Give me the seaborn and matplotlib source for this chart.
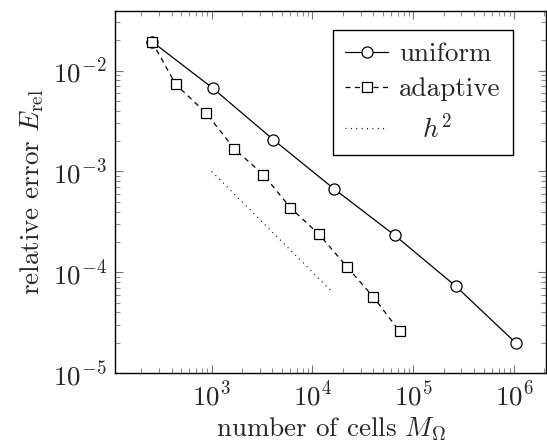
import numpy as np
import pandas as pd
import matplotlib
matplotlib.use("Agg")
import matplotlib.pyplot as plt
import matplotlib.ticker as mticker
import seaborn as sns

# ---- data ----
uniform_cells = [256, 1024, 4096, 16384, 65536, 262144, 1048576]
uniform_err = [1.94e-2, 6.7e-3, 2.06e-3, 6.7e-4, 2.32e-4, 7.3e-5, 1.97e-5]

adaptive_cells = [256, 440, 880, 1680, 3250, 6050, 11500, 22000, 40000, 73000]
adaptive_err = [1.94e-2, 7.3e-3, 3.8e-3, 1.67e-3, 9.3e-4, 4.35e-4, 2.4e-4, 1.13e-4, 5.7e-5, 2.6e-5]

h2_cells = [1000, 16000]
h2_err = [1.0e-3, 6.25e-5]

labels = ["uniform", "adaptive", r"$\quad h^2$"]

sns.set_style("ticks")
plt.rcParams.update({
    "font.family": ["cmr10", "DejaVu Serif"],
    "mathtext.fontset": "cm",
    "axes.formatter.use_mathtext": True,
    "xtick.direction": "in",
    "ytick.direction": "in",
    "xtick.top": True,
    "ytick.right": True,
    "xtick.minor.visible": True,
    "ytick.minor.visible": True,
    "axes.edgecolor": "black",
    "axes.linewidth": 1.0,
})

FS = 19.5

fig = plt.figure(figsize=(5.47, 4.48), dpi=100)
ax = fig.add_axes([115/547, 1 - 373/448, (546 - 115)/547, (373 - 11)/448])
ax.set_xscale("log")
ax.set_yscale("log")

df_u = pd.DataFrame({"cells": uniform_cells, "err": uniform_err})
df_a = pd.DataFrame({"cells": adaptive_cells, "err": adaptive_err})
df_h = pd.DataFrame({"cells": h2_cells, "err": h2_err})

sns.lineplot(data=df_u, x="cells", y="err", ax=ax, color="black", lw=0.9,
             marker="o", markersize=8, markerfacecolor="white",
             markeredgecolor="black", markeredgewidth=0.9,
             estimator=None, label=labels[0])
sns.lineplot(data=df_a, x="cells", y="err", ax=ax, color="black", lw=0.9,
             marker="s", markersize=7, markerfacecolor="white",
             markeredgecolor="black", markeredgewidth=0.9,
             dashes=False, linestyle=(0, (4, 3.5)),
             estimator=None, label=labels[1])
sns.lineplot(data=df_h, x="cells", y="err", ax=ax, color="black", lw=0.9,
             linestyle=(0, (0.8, 3.5)), estimator=None, label=labels[2])

ax.set_xlim(110, 2.07e6)
ax.set_ylim(1e-5, 0.039)

ax.xaxis.set_major_locator(mticker.LogLocator(base=10, numticks=20))
ax.yaxis.set_major_locator(mticker.LogLocator(base=10, numticks=20))
ax.xaxis.set_minor_locator(mticker.LogLocator(base=10, subs=np.arange(2, 10), numticks=100))
ax.yaxis.set_minor_locator(mticker.LogLocator(base=10, subs=np.arange(2, 10), numticks=100))
ax.xaxis.set_minor_formatter(mticker.NullFormatter())
ax.yaxis.set_minor_formatter(mticker.NullFormatter())

ax.tick_params(which="major", length=6, width=0.8, color="0.45", labelsize=FS, pad=6)
ax.tick_params(which="minor", length=3.5, width=0.8, color="0.55")

ax.set_xlabel(r"number of cells $M_\Omega$", fontsize=FS, labelpad=3)
ax.set_ylabel(r"relative error $E_{\mathrm{rel}}$", fontsize=FS, labelpad=5)

leg = ax.legend(loc="upper right", bbox_to_anchor=((513 - 115)/431, 1 - (30 - 11)/362),
                borderaxespad=0, fontsize=FS, frameon=True, fancybox=False,
                framealpha=1, edgecolor="black", handlelength=1.6,
                labelspacing=0.42, handletextpad=0.4, borderpad=0.45)
leg.get_frame().set_linewidth(1.0)

for s in ax.spines.values():
    s.set_visible(True)

fig.savefig("out.png", dpi=100)
